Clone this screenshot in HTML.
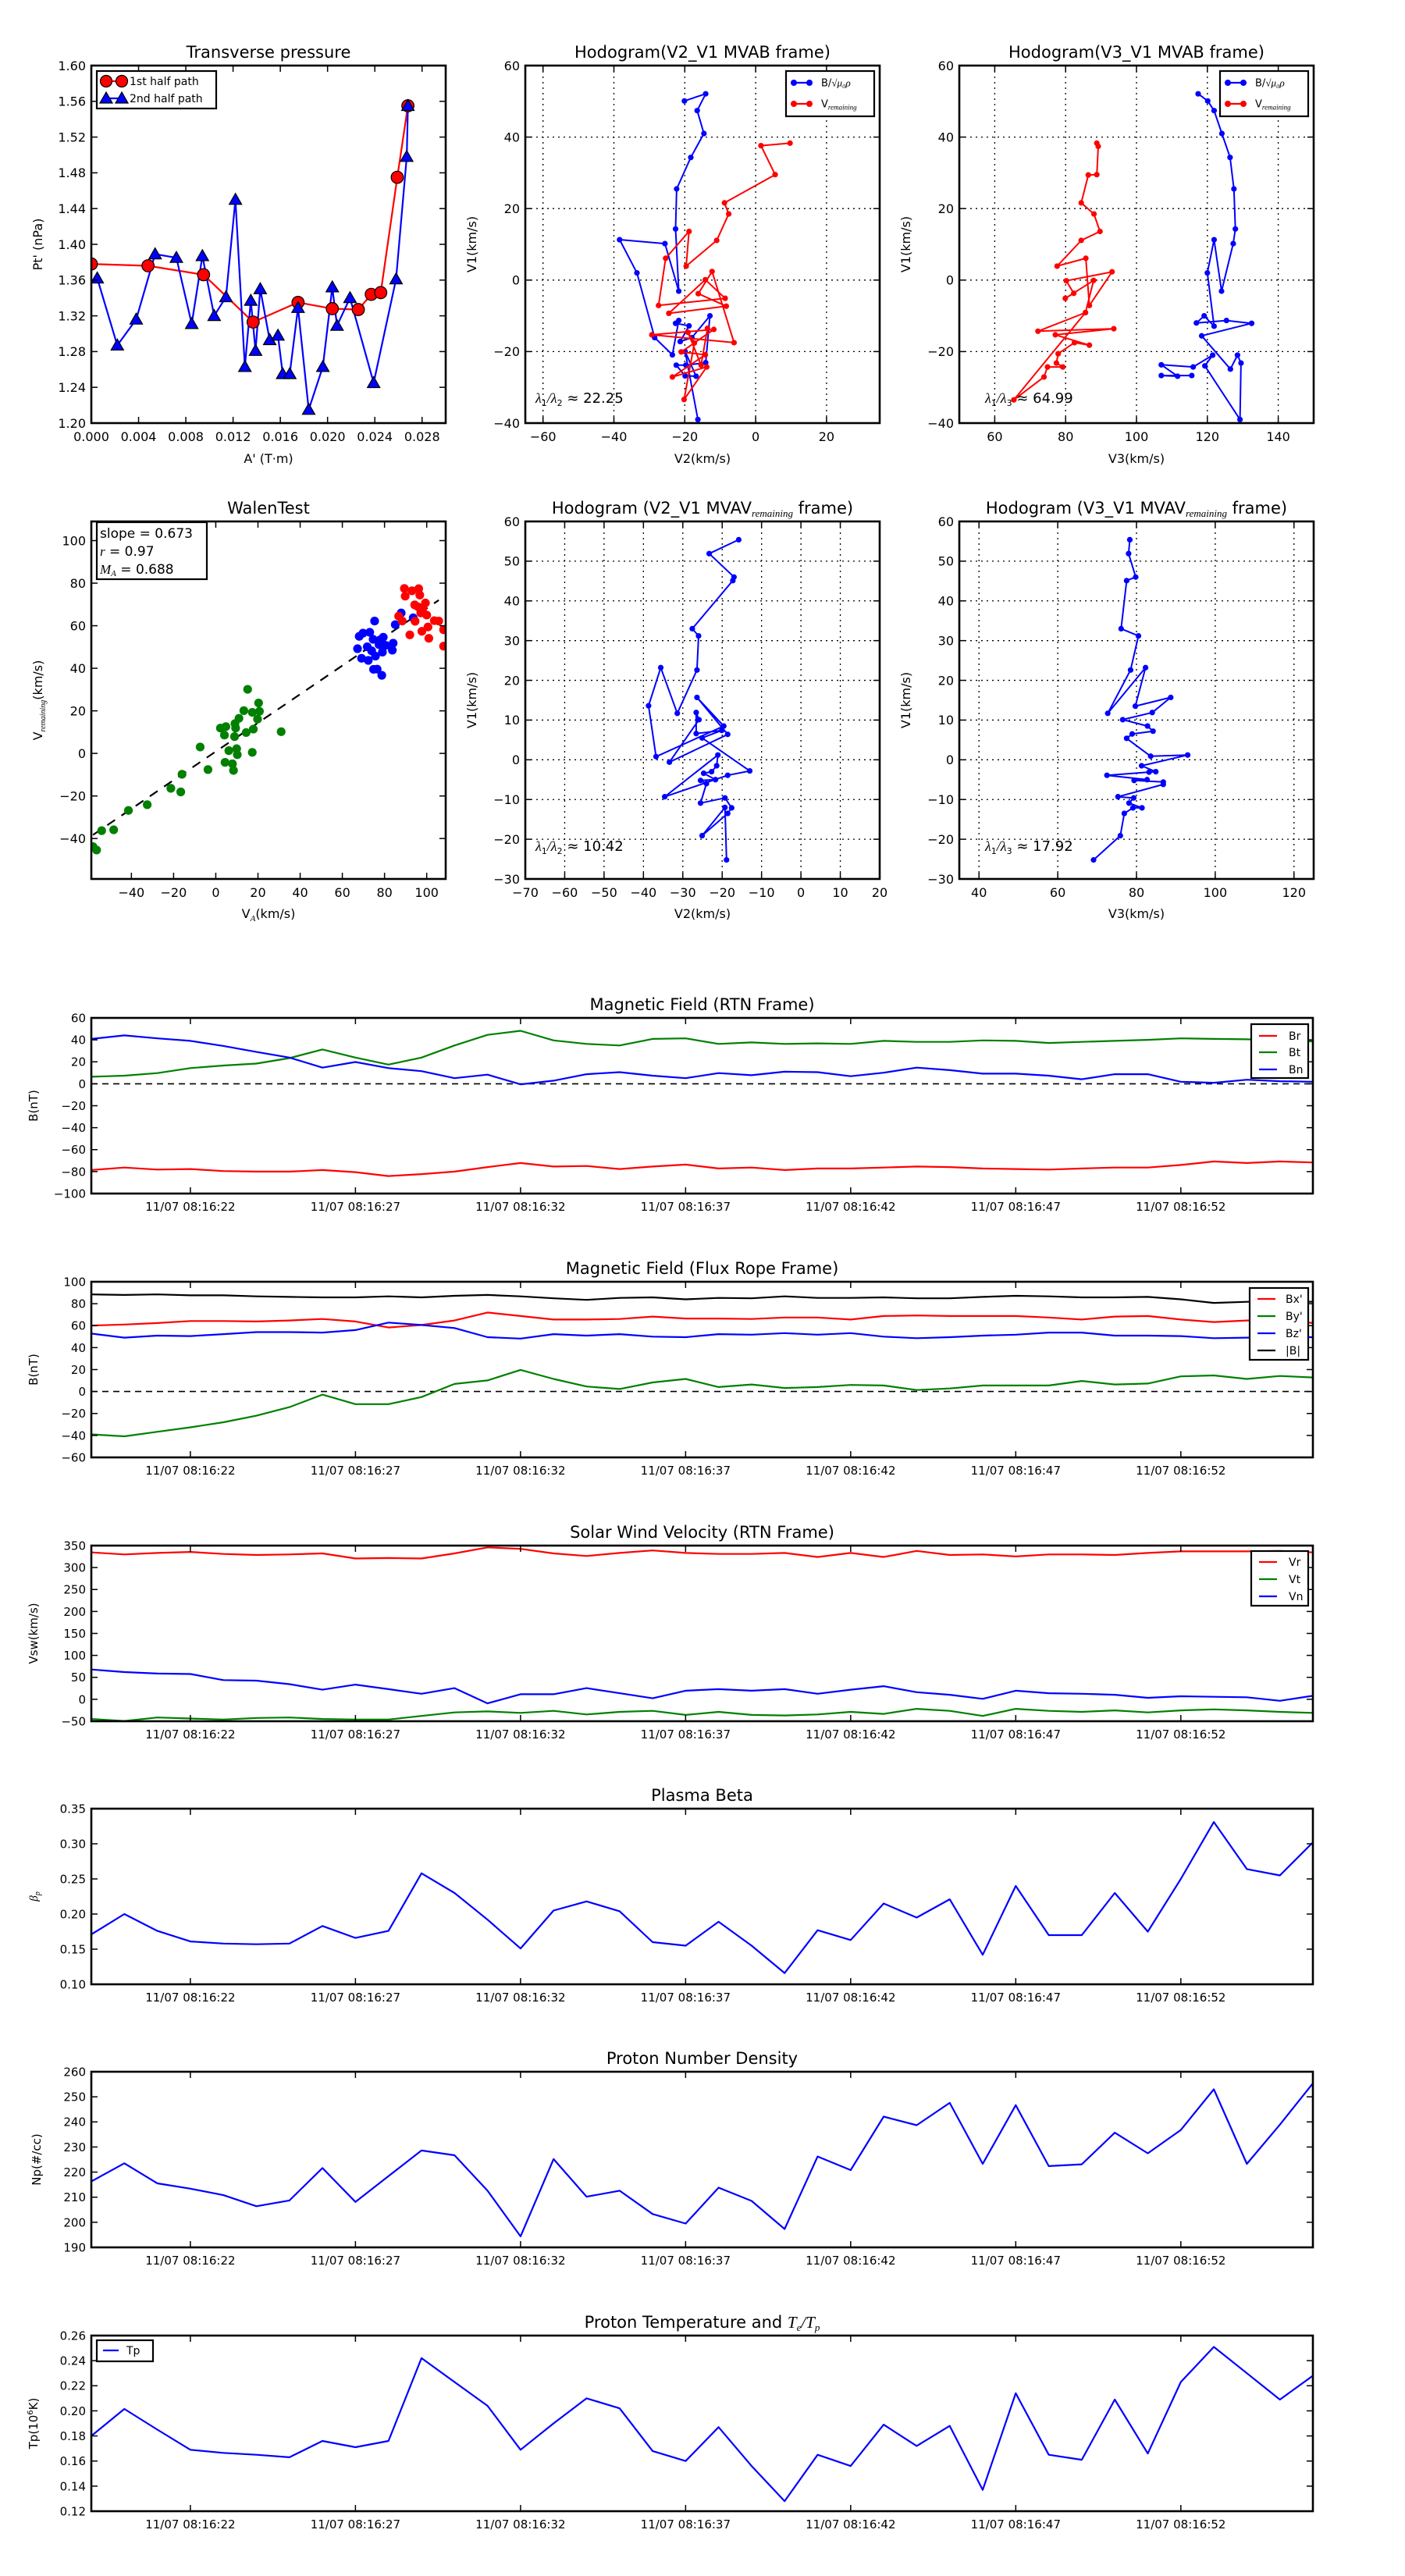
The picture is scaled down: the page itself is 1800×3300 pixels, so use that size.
<!DOCTYPE html>
<html><head><meta charset="utf-8"><title>Flux rope analysis</title>
<style>
html,body{margin:0;padding:0;background:#fff;}
svg{display:block;font-family:"DejaVu Sans","Liberation Sans",sans-serif;}
</style></head>
<body>
<svg id="fig" xmlns="http://www.w3.org/2000/svg" width="1800" height="3300" viewBox="0 0 1800 3300">
<rect x="0" y="0" width="1800" height="3300" fill="#fff"/>
</svg>
<script>
// ---------- Transverse pressure ----------
const tpRedA=[0,0.0048,0.0095,0.0137,0.0175,0.0204,0.0226,0.0237,0.0245,0.0259,0.0268];
const tpRedP=[1.378,1.376,1.366,1.313,1.335,1.328,1.327,1.344,1.346,1.475,1.555];
const tpBlueA=[0.0005,0.0022,0.0038,0.0054,0.0072,0.0085,0.0094,0.0104,0.0114,0.0122,0.0130,0.0135,0.0139,0.0143,0.0151,0.0158,0.0162,0.0168,0.0175,0.0184,0.0196,0.0204,0.0208,0.0219,0.0239,0.0258,0.0267,0.0268];
const tpBlueP=[1.362,1.287,1.316,1.389,1.385,1.311,1.387,1.320,1.341,1.450,1.263,1.337,1.281,1.350,1.293,1.298,1.255,1.255,1.329,1.215,1.263,1.352,1.309,1.340,1.245,1.361,1.498,1.555];
const tpXTicks=[0,0.004,0.008,0.012,0.016,0.020,0.024,0.028];
const tpXLabels=["0.000","0.004","0.008","0.012","0.016","0.020","0.024","0.028"];
const tpYTicks=[1.20,1.24,1.28,1.32,1.36,1.40,1.44,1.48,1.52,1.56,1.60];
// ---------- Hodogram V2-V1 MVAB ----------
const h1BlueX=[-20.1,-14.1,-16.5,-14.6,-18.3,-22.3,-22.6,-21.7,-25.6,-38.4,-33.5,-28.5,-23.5,-21.7,-22.6,-18.8,-21.3,-18,-12.9,-14.1,-19.7,-22.4,-19.9,-16.8,-19.9,-16.3];
const h1BlueY=[50.1,52.1,47.4,41.0,34.3,25.5,14.3,-3.1,10.2,11.3,2.0,-16.1,-20.9,-11.3,-12.1,-12.8,-17.2,-16.1,-10.0,-23.1,-23.8,-23.8,-26.8,-26.9,-20,-39];
const h1RedX=[9.7,1.5,5.5,-8.8,-7.6,-11,-19.6,-18.8,-25.4,-27.4,-8.6,-14.2,-24.5,-8.3,-16.2,-12.3,-6.1,-29.3,-11.8,-21,-14.2,-23.5,-13.8,-20.2,-17.3,-19.1,-15.4,-13.6];
const h1RedY=[38.3,37.6,29.5,21.6,18.5,11.1,3.9,13.6,6.1,-7.1,-5.1,0.1,-9.3,-7.3,-3.8,2.4,-17.5,-15.3,-13.8,-20.1,-20.9,-27.1,-24.3,-33.4,-17.6,-14.6,-23.8,-13.5];
// ---------- Hodogram V3-V1 MVAB ----------
const h2BlueX=[117.4,120.1,121.9,124.1,126.4,127.5,127.9,127.3,124,121.9,120,121.9,119.1,116.9,125.4,132.5,118.4,126.5,128.5,129.5,129.2,119.3,121.5,116,107,111.6,107,115.6];
const h2BlueY=[52.1,50.1,47.4,41.0,34.3,25.5,14.3,10.2,-3.1,11.3,2,-12.9,-10,-12,-11.3,-12.1,-15.6,-24.9,-21,-23.2,-39,-24,-21,-24.3,-23.7,-26.9,-26.7,-26.7];
const h2RedX=[88.8,89.2,88.8,86.4,84.4,88,89.7,84.4,77.6,85.7,86.7,93.1,80.2,82.3,79.9,87.9,85.6,72.2,93.6,77.1,86.7,82.5,77.9,77.4,79.2,74.9,73.9,65.4,85.6];
const h2RedY=[38.3,37.4,29.5,29.4,21.6,18.5,13.6,11.1,3.9,6.1,-7.1,2.3,-0.2,-3.7,-5.1,-0.1,-9.1,-14.3,-13.6,-15.3,-18.2,-17.5,-20.6,-23.2,-24.3,-24.3,-27.1,-33.5,-9.1];
// ---------- Walen test ----------
const wGreenX=[-58.2,-56.5,-54.1,-48.4,-41.4,-32.5,-21.3,-16.6,-16,-7.4,-3.7,2.2,4.8,4.1,4.4,6.2,7.9,8.4,8.9,9.4,9.9,10.2,11,13.3,14.4,15.1,17.3,17.3,17.8,19.8,20.3,20.7,31,9.1];
const wGreenY=[-43.8,-45.4,-36.3,-35.9,-26.8,-24.1,-16.4,-18.1,-9.8,3,-7.6,11.9,12.6,8.6,-4.2,1.3,-4.9,-8,7.9,11.9,2.2,-0.6,16.5,20.1,9.8,30.1,0.5,19.3,11.4,16.1,23.7,19.8,10.2,14];
const wBlueX=[67.2,68,69.1,69.8,71.8,72.3,73,73.9,74.8,75.3,75.7,76.5,77.4,78.7,79,79.4,80.6,83.7,84.1,85.1,87.9,93.6,77.8,74.6];
const wBlueY=[49.2,55,44.7,56.5,50.1,43.7,56.9,48.2,39.5,62.2,45.7,39.6,51.1,36.7,47.6,54.6,50.8,48.5,51.8,60.5,66,63.7,53.3,53.6];
const wRedX=[86.7,88.4,89.4,89.8,92,93,94.3,94.5,96.2,96.7,97.7,98.1,99.4,100,100.6,101,103.6,105.7,108,108,96,97.2];
const wRedY=[64.5,62.2,77.5,73.9,55.7,76.4,69.8,62.1,77.4,74.4,57.4,67.9,70.7,65,59.4,54.1,62.4,62.2,58.1,50.4,68.8,66];
const wSlope=[0.673];
const wIntercept=[0.9];
// ---------- MVAV hodograms ----------
const m1X=[-15.8,-23.3,-17,-17.3,-27.6,-26,-26.4,-31.4,-35.6,-38.7,-36.8,-19.6,-26.4,-18.6,-33.4,-25.9,-26.6,-26.6,-20.1,-25.1,-13,-18.6,-34.6,-21.1,-21.4,-22.7,-24.7,-21.7,-25.5,-24,-25.5,-19.3,-17.6,-18.6,-25.1,-19.3,-18.9];
const m1Y=[55.4,51.9,46,45.1,33,31.2,22.6,11.7,23.2,13.6,0.8,8.5,15.7,6.4,-0.6,10.1,11.9,6.6,7.4,5.5,-2.8,-3.9,-9.3,1.2,-1.5,-3,-3.4,-5,-5.2,-6,-10.9,-9.6,-12.1,-13.5,-19.1,-12,-25.2];
const m2X=[78.3,78,79.8,77.5,76.1,80.5,78.5,72.7,82.3,79.7,88.7,84,76.5,82.8,84.2,78.9,77.5,83.6,93,81.3,84.9,83.2,72.5,82.7,79.4,86.8,86.8,75.3,79.3,78.1,81.4,79.1,76.9,75.9,69.1];
const m2Y=[55.4,51.9,46,45.1,33,31.2,22.6,11.7,23.2,13.5,15.7,11.9,10.1,8.5,7.2,6.5,5.4,0.9,1.2,-1.5,-3,-3.1,-3.9,-5,-5.2,-5.6,-6.2,-9.3,-9.6,-10.9,-12.1,-12.1,-13.5,-19.1,-25.2];
// ---------- time series (seconds after 08:16:00) ----------
const tSec=[19,20,21,22,23,24,25,26,27,28,29,30,31,32,33,34,35,36,37,38,39,40,41,42,43,44,45,46,47,48,49,50,51,52,53,54,55,56];
const timeTicks=[22,27,32,37,42,47,52];
const timeLabels=["11/07 08:16:22","11/07 08:16:27","11/07 08:16:32","11/07 08:16:37","11/07 08:16:42","11/07 08:16:47","11/07 08:16:52"];
const bR=[-78.6,-76.3,-78.2,-77.7,-79.5,-80,-80,-78.6,-80.5,-84.1,-82.3,-80,-75.9,-72.2,-75.4,-74.9,-77.7,-75.4,-73.6,-77.2,-76.3,-78.6,-77.2,-77.2,-76.3,-75.4,-75.9,-77.2,-77.7,-78.2,-77.2,-76.3,-76.3,-74,-70.8,-72.2,-70.8,-71.7];
const bT=[6.4,7.4,9.7,14.3,16.6,18.4,23.4,31.3,23.9,17.5,23.9,34.9,44.6,48.3,39.5,36.3,34.9,40.9,41.4,36.3,37.7,36.3,36.8,36.3,39.1,38.2,38.2,39.5,39.1,37.2,38.2,39.1,40,41.4,40.9,40.5,39.5,38.6];
const bN=[40.9,44.1,41.4,39.1,34.5,29,23.9,14.7,19.8,14.3,11.5,5.1,8.3,-0.5,2.8,8.7,10.6,7.4,5.1,9.7,7.8,11,10.6,6.9,10.1,14.7,12.4,9.2,9.2,7.4,4.1,8.7,8.7,1.8,0.9,3.7,2.3,1.8];
const bxF=[60.1,61,62.4,64.2,64.2,63.8,64.7,66.1,63.8,58.3,60.6,64.7,72,68.8,65.6,65.6,66.1,68.3,66.5,66.5,66.1,67.4,67.4,65.6,68.8,69.3,68.8,68.8,68.8,67.4,65.6,68.3,68.8,65.6,63.3,64.7,65.6,62.4];
const byF=[-39,-40.8,-36.7,-32.6,-28,-22,-14.2,-2.8,-11.5,-11.5,-5,6.9,10.1,19.7,11.5,4.6,2.3,8.3,11.5,4.1,6.4,3.2,4.1,6,5.5,1.4,2.8,5.5,5.5,5.5,9.6,6.4,7.3,13.8,14.7,11.5,14.2,12.8];
const bzF=[52.8,49.1,50.9,50.5,52.3,54.1,54.1,53.7,56,62.8,60.6,57.8,49.5,48.2,52.3,50.9,52.3,50,49.5,52.3,51.8,53.2,51.8,53.2,50,48.6,49.5,50.9,51.8,53.7,53.7,50.9,50.9,50.5,48.6,49.1,49.5,49.5];
const bMag=[88.5,88,88.5,87.6,87.6,86.7,86.2,85.8,85.8,86.7,85.8,87.2,88,86.7,84.9,83.5,85.3,85.8,84,85.3,84.9,86.7,85.3,85.3,85.8,84.9,84.9,86.2,87.2,86.7,85.8,85.8,86.2,84,80.7,81.7,82.6,81.7];
const vR=[334.5,330,333.3,335.6,331,328.7,330,332.2,320.7,321.8,320.7,332.2,346,342.5,332.2,326.4,333.3,339,333.3,331,331,333.3,324.1,333.3,324.1,337.9,328.7,330,325.3,330,330,328.7,333.3,336.8,336.8,336.8,337.9,334.5];
const vT=[-44.8,-49.4,-41.4,-43.7,-46,-42.5,-41.4,-44.8,-46,-46,-37.9,-29.9,-27.6,-31,-26.4,-34.5,-28.7,-26.4,-35.6,-28.7,-35.6,-36.8,-34.5,-28.7,-33.3,-21.8,-26.4,-37.9,-21.8,-26.4,-28.7,-25.3,-29.9,-25.3,-23,-25.3,-28.7,-31];
const vN=[67.8,62,58.6,57.5,43.7,42.5,34.5,21.8,33.3,23,12.6,25.3,-9.2,11.5,11.5,25.3,13.8,2.3,19.5,23,19.5,23,12.6,21.8,29.9,16.1,10.3,1.1,19.5,13.8,12.6,10.3,3.4,6.9,5.7,4.6,-3.4,8];
const betaP=[0.171,0.200,0.176,0.161,0.158,0.157,0.158,0.183,0.166,0.176,0.258,0.230,0.192,0.151,0.205,0.218,0.204,0.160,0.155,0.189,0.155,0.116,0.177,0.163,0.215,0.195,0.221,0.142,0.240,0.170,0.170,0.230,0.175,0.250,0.331,0.264,0.255,0.302];
const nP=[216.3,223.5,215.5,213.4,210.8,206.4,208.7,221.6,208.1,218.4,228.6,226.7,212.6,194.4,225.2,210.2,212.6,203.3,199.5,213.8,208.5,197.3,226.2,220.8,242.1,238.7,247.6,223.3,246.7,222.4,223.1,235.7,227.5,236.8,253,223.3,238.9,255.4];
const tP=[0.180,0.2015,0.185,0.169,0.1665,0.165,0.163,0.176,0.171,0.176,0.242,0.223,0.204,0.169,0.190,0.210,0.202,0.168,0.160,0.187,0.156,0.128,0.165,0.156,0.189,0.172,0.188,0.137,0.214,0.165,0.161,0.209,0.166,0.223,0.251,0.230,0.209,0.228];

const NS='http://www.w3.org/2000/svg';
const svg=document.getElementById('fig');
function mk(tag,attrs,parent){const e=document.createElementNS(NS,tag);for(const k in attrs)e.setAttribute(k,attrs[k]);(parent||svg).appendChild(e);return e;}
function fmtNum(v){return String(v).replace('-','\u2212');}
let clipId=0;
function axes(name,box,xlim,ylim,xt,xl,yt,yl,opt){
  const g=mk('g',{});
  
  
  const [x0,y0,x1,y1]=box;
  const sx=v=>x0+(v-xlim[0])/(xlim[1]-xlim[0])*(x1-x0);
  const sy=v=>y1-(v-ylim[0])/(ylim[1]-ylim[0])*(y1-y0);
  const fs=opt.fs||16;
  const cid='c'+(clipId++);
  const cp=mk('clipPath',{id:cid},g);mk('rect',{x:x0,y:y0,width:x1-x0,height:y1-y0},cp);
  if(opt.grid){
    xt.forEach(v=>{const gl=mk('line',{x1:sx(v),x2:sx(v),y1:y0,y2:y1,stroke:'#000','stroke-width':1.3,'stroke-dasharray':'2,5'},g);});
    yt.forEach(v=>{const gl=mk('line',{x1:x0,x2:x1,y1:sy(v),y2:sy(v),stroke:'#000','stroke-width':1.3,'stroke-dasharray':'2,5'},g);});
  }
  const data=mk('g',{'clip-path':'url(#'+cid+')'},g);
  xt.forEach((v,i)=>{const x=sx(v);
    mk('line',{x1:x,x2:x,y1:y1,y2:y1-8,stroke:'#000','stroke-width':1.5},g);
    mk('line',{x1:x,x2:x,y1:y0,y2:y0+8,stroke:'#000','stroke-width':1.5},g);
    const t=mk('text',{x:x,y:y1+fs+7,'font-size':fs,'text-anchor':'middle'},g);t.textContent=xl[i];
    });
  yt.forEach((v,i)=>{const y=sy(v);
    mk('line',{x1:x0,x2:x0+8,y1:y,y2:y,stroke:'#000','stroke-width':1.5},g);
    mk('line',{x1:x1,x2:x1-8,y1:y,y2:y,stroke:'#000','stroke-width':1.5},g);
    const t=mk('text',{x:x0-7,y:y+fs*0.36,'font-size':fs,'text-anchor':'end'},g);t.textContent=yl[i];
    });
  const fr=mk('rect',{x:x0,y:y0,width:x1-x0,height:y1-y0,fill:'none',stroke:'#000','stroke-width':2.6},g);
  
  return {sx,sy,g,data,x0,y0,x1,y1};
}
function title(ax,html,fs){const t=mk('text',{x:(ax.x0+ax.x1)/2,y:ax.y0-10,'font-size':fs||21,'text-anchor':'middle'});t.innerHTML=html;}
function xlabel(ax,html,y,fs){const t=mk('text',{x:(ax.x0+ax.x1)/2,y:y,'font-size':fs||16,'text-anchor':'middle'});t.innerHTML=html;}
function ylabel(ax,html,x,fs){const cy=(ax.y0+ax.y1)/2;const t=mk('text',{x:x,y:cy,'font-size':fs||16,'text-anchor':'middle',transform:'rotate(-90 '+x+' '+cy+')'});t.innerHTML=html;}
function line(ax,xs,ys,color,name,w){const pts=xs.map((v,i)=>ax.sx(v).toFixed(1)+','+ax.sy(ys[i]).toFixed(1)).join(' ');
  const p=mk('polyline',{points:pts,fill:'none',stroke:color,'stroke-width':w||2.2,'stroke-linejoin':'round'},ax.data);
  return p;}
function dots(ax,xs,ys,color,name,r,stroke){xs.forEach((v,i)=>{const c=mk('circle',{cx:ax.sx(v),cy:ax.sy(ys[i]),r:r,fill:color,stroke:stroke||'none','stroke-width':1.2},ax.data);
  });}
function tris(ax,xs,ys,color,name,s){xs.forEach((v,i)=>{const x=ax.sx(v),y=ax.sy(ys[i]);
  const p=mk('polygon',{points:(x)+','+(y-s)+' '+(x-s)+','+(y+s*0.75)+' '+(x+s)+','+(y+s*0.75),fill:color,stroke:'#000','stroke-width':1.2},ax.data);
  });}
function legendBox(x,y,w,h,name){const r=mk('rect',{x:x,y:y,width:w,height:h,fill:'#fff',stroke:'#000','stroke-width':2.2});}
function legendEntry(x1,x2,y,color,label,fs,marker,tx){
  const l=mk('line',{x1:x1,x2:x2,y1:y,y2:y,stroke:color,'stroke-width':2.2});
  if(marker==='o'){[x1,x2].forEach(x=>{const c=mk('circle',{cx:x,cy:y,r:fs>13?7.5:4,fill:color,stroke:fs>13?'#000':'none','stroke-width':1.2});});}
  if(marker==='^'){[x1,x2].forEach(x=>{const p=mk('polygon',{points:x+','+(y-8)+' '+(x-8)+','+(y+6)+' '+(x+8)+','+(y+6),fill:color,stroke:'#000','stroke-width':1.2});});}
  const t=mk('text',{x:tx||(x2+10),y:y+fs*0.36,'font-size':fs});t.innerHTML=label;}
function note(x,y,html,fs){const t=mk('text',{x:x,y:y,'font-size':fs||18});t.innerHTML=html;}
const rng=(a,b,s)=>{const o=[];for(let v=a;v<=b+1e-9;v+=s)o.push(+v.toFixed(4));return o;};
const lab=(arr,d)=>arr.map(v=>fmtNum(v.toFixed(d)));
const L=117,R=571,C0=673,C1=1127,D0=1229,D1=1683;

// ---- Transverse pressure ----
let ax=axes('transverse-pressure-chart',[L,84,R,542],[0,0.030],[1.20,1.60],tpXTicks,tpXLabels,tpYTicks,lab(tpYTicks,2),{});
line(ax,tpRedA,tpRedP,'#f00','first-half-path-line');
line(ax,tpBlueA,tpBlueP,'#00f','second-half-path-line');
dots(ax,tpRedA,tpRedP,'#f00','first-half-point',7.8,'#000');
tris(ax,tpBlueA,tpBlueP,'#00f','second-half-point',8);
title(ax,'Transverse pressure');
xlabel(ax,"A' (T\u00b7m)",593);
ylabel(ax,"Pt' (nPa)",54);
legendBox(124,91,153,48,'transverse-pressure-legend');
legendEntry(136,156,104,'#f00','1st half path',14,'o');
legendEntry(136,156,126,'#00f','2nd half path',14,'^');

// ---- Hodogram V2-V1 MVAB ----
let yt1=rng(-40,60,20);
ax=axes('hodogram-v2-v1-mvab-chart',[C0,84,C1,542],[-65,35],[-40,60],rng(-60,20,20),lab(rng(-60,20,20),0),yt1,lab(yt1,0),{grid:true});
line(ax,h1BlueX,h1BlueY,'#00f','b-alfven-line',2);dots(ax,h1BlueX,h1BlueY,'#00f','b-alfven-point',3.6);
line(ax,h1RedX,h1RedY,'#f00','v-remaining-line',2);dots(ax,h1RedX,h1RedY,'#f00','v-remaining-point',3.6);
title(ax,'Hodogram(V2_V1 MVAB frame)');xlabel(ax,'V2(km/s)',593);ylabel(ax,'V1(km/s)',610);
note(686,516,'<tspan font-style="italic" font-family="Liberation Serif">λ</tspan><tspan font-size="11" dy="4">1</tspan><tspan dy="-4" font-style="italic" font-family="Liberation Serif">/λ</tspan><tspan font-size="11" dy="4">2</tspan><tspan dy="-4"> ≈ 22.25</tspan>');
legendBox(1007,91,113,58,'hodogram-legend');
legendEntry(1017,1037,106,'#00f','B/<tspan font-family="Liberation Serif" font-style="italic">√μ₀ρ</tspan>',13,'o',1052);
legendEntry(1017,1037,133,'#f00','V<tspan font-size="9" dy="3" font-style="italic" font-family="Liberation Serif">remaining</tspan>',13,'o',1052);

// ---- Hodogram V3-V1 MVAB ----
ax=axes('hodogram-v3-v1-mvab-chart',[D0,84,D1,542],[50,150],[-40,60],rng(60,140,20),lab(rng(60,140,20),0),yt1,lab(yt1,0),{grid:true});
line(ax,h2BlueX,h2BlueY,'#00f','b-alfven-line',2);dots(ax,h2BlueX,h2BlueY,'#00f','b-alfven-point',3.6);
line(ax,h2RedX,h2RedY,'#f00','v-remaining-line',2);dots(ax,h2RedX,h2RedY,'#f00','v-remaining-point',3.6);
title(ax,'Hodogram(V3_V1 MVAB frame)');xlabel(ax,'V3(km/s)',593);ylabel(ax,'V1(km/s)',1166);
note(1262,516,'<tspan font-style="italic" font-family="Liberation Serif">λ</tspan><tspan font-size="11" dy="4">1</tspan><tspan dy="-4" font-style="italic" font-family="Liberation Serif">/λ</tspan><tspan font-size="11" dy="4">3</tspan><tspan dy="-4"> ≈ 64.99</tspan>');
legendBox(1563,91,113,58,'hodogram-legend');
legendEntry(1573,1593,106,'#00f','B/<tspan font-family="Liberation Serif" font-style="italic">√μ₀ρ</tspan>',13,'o',1608);
legendEntry(1573,1593,133,'#f00','V<tspan font-size="9" dy="3" font-style="italic" font-family="Liberation Serif">remaining</tspan>',13,'o',1608);

// ---- Walen test ----
let wt=rng(-40,100,20);
ax=axes('walen-test-chart',[L,668,R,1126],[-59,109],[-59,109],wt,lab(wt,0),wt,lab(wt,0),{});
{const xs=[Math.min(...wGreenX),Math.max(...wRedX.slice(0,18))];const ys=xs.map(v=>wSlope[0]*v+wIntercept[0]);
 const d=line(ax,xs,ys,'#000','walen-fit-line',2.2);d.setAttribute('stroke-dasharray','12,10');}
dots(ax,wGreenX,wGreenY,'#008000','walen-point-green',5.6);
dots(ax,wBlueX,wBlueY,'#00f','walen-point-blue',5.6);
dots(ax,wRedX,wRedY,'#f00','walen-point-red',5.6);
title(ax,'WalenTest');
xlabel(ax,'V<tspan font-size="11" dy="4" font-style="italic" font-family="Liberation Serif">A</tspan><tspan dy="-4">(km/s)</tspan>',1176);
ylabel(ax,'V<tspan font-size="10" dy="4" font-style="italic" font-family="Liberation Serif">remaining</tspan><tspan dy="-4">(km/s)</tspan>',54);
legendBox(124,669,141,73,'walen-stats-box');
{const t=mk('text',{x:128,y:689,'font-size':17});t.textContent='slope = 0.673';
 const t2=mk('text',{x:128,y:712,'font-size':17});t2.innerHTML='<tspan font-style="italic" font-family="Liberation Serif">r</tspan> = 0.97';
 const t3=mk('text',{x:128,y:735,'font-size':17});t3.innerHTML='<tspan font-style="italic" font-family="Liberation Serif">M<tspan font-size="11" dy="3">A</tspan></tspan><tspan dy="-3"> = 0.688</tspan>';}

// ---- MVAV hodograms ----
let myt=rng(-30,60,10);
ax=axes('hodogram-v2-v1-mvav-chart',[C0,668,C1,1126],[-70,20],[-30,60],rng(-70,20,10),lab(rng(-70,20,10),0),myt,lab(myt,0),{grid:true});
line(ax,m1X,m1Y,'#00f','b-alfven-line',2);dots(ax,m1X,m1Y,'#00f','b-alfven-point',3.6);
title(ax,'Hodogram (V2_V1 MVAV<tspan font-size="13" dy="4" font-style="italic" font-family="Liberation Serif">remaining</tspan><tspan dy="-4"> frame)</tspan>');
xlabel(ax,'V2(km/s)',1176);ylabel(ax,'V1(km/s)',610);
note(686,1090,'<tspan font-style="italic" font-family="Liberation Serif">λ</tspan><tspan font-size="11" dy="4">1</tspan><tspan dy="-4" font-style="italic" font-family="Liberation Serif">/λ</tspan><tspan font-size="11" dy="4">2</tspan><tspan dy="-4"> ≈ 10.42</tspan>');
ax=axes('hodogram-v3-v1-mvav-chart',[D0,668,D1,1126],[35,125],[-30,60],rng(40,120,20),lab(rng(40,120,20),0),myt,lab(myt,0),{grid:true});
line(ax,m2X,m2Y,'#00f','b-alfven-line',2);dots(ax,m2X,m2Y,'#00f','b-alfven-point',3.6);
title(ax,'Hodogram (V3_V1 MVAV<tspan font-size="13" dy="4" font-style="italic" font-family="Liberation Serif">remaining</tspan><tspan dy="-4"> frame)</tspan>');
xlabel(ax,'V3(km/s)',1176);ylabel(ax,'V1(km/s)',1166);
note(1262,1090,'<tspan font-style="italic" font-family="Liberation Serif">λ</tspan><tspan font-size="11" dy="4">1</tspan><tspan dy="-4" font-style="italic" font-family="Liberation Serif">/λ</tspan><tspan font-size="11" dy="4">3</tspan><tspan dy="-4"> ≈ 17.92</tspan>');

// ---- time series panels ----
function tsAxes(name,y0,ylim,yt,yd,ttl,ylab,labx){
  const a=axes(name,[L,y0,1682,y0+225],[19,56],ylim,timeTicks,timeLabels,yt,lab(yt,yd),{fs:15});
  title(a,ttl,21);ylabel(a,ylab,labx||48,15);return a;}
ax=tsAxes('magnetic-field-rtn-chart',1304,[-100,60],rng(-100,60,20),0,'Magnetic Field (RTN Frame)','B(nT)');
{const z=line(ax,[19,56],[0,0],'#000','zero-line',1.6);z.setAttribute('stroke-dasharray','8,6');}
line(ax,tSec,bR,'#f00','br-line');line(ax,tSec,bT,'#008000','bt-line');line(ax,tSec,bN,'#00f','bn-line');
legendBox(1603,1312,73,69,'magnetic-field-rtn-legend');
legendEntry(1613,1636,1327,'#f00','Br',14,null,1651);legendEntry(1613,1636,1348,'#008000','Bt',14,null,1651);legendEntry(1613,1636,1370,'#00f','Bn',14,null,1651);

ax=tsAxes('magnetic-field-flux-rope-chart',1642,[-60,100],rng(-60,100,20),0,'Magnetic Field (Flux Rope Frame)','B(nT)');
{const z=line(ax,[19,56],[0,0],'#000','zero-line',1.6);z.setAttribute('stroke-dasharray','8,6');}
line(ax,tSec,bMag,'#000','b-magnitude-line');line(ax,tSec,bxF,'#f00','bx-prime-line');line(ax,tSec,bzF,'#00f','bz-prime-line');line(ax,tSec,byF,'#008000','by-prime-line');
legendBox(1601,1650,75,92,'magnetic-field-flux-rope-legend');
legendEntry(1611,1634,1664,'#f00',"Bx'",14,null,1647);legendEntry(1611,1634,1686,'#008000',"By'",14,null,1647);legendEntry(1611,1634,1708,'#00f',"Bz'",14,null,1647);legendEntry(1611,1634,1730,'#000','|B|',14,null,1647);

ax=tsAxes('solar-wind-velocity-chart',1980,[-50,350],rng(-50,350,50),0,'Solar Wind Velocity (RTN Frame)','Vsw(km/s)');
line(ax,tSec,vR,'#f00','vr-line');line(ax,tSec,vT,'#008000','vt-line');line(ax,tSec,vN,'#00f','vn-line');
legendBox(1603,1987,73,70,'solar-wind-velocity-legend');
legendEntry(1613,1636,2001,'#f00','Vr',14,null,1651);legendEntry(1613,1636,2023,'#008000','Vt',14,null,1651);legendEntry(1613,1636,2045,'#00f','Vn',14,null,1651);

ax=tsAxes('plasma-beta-chart',2317,[0.10,0.35],[0.10,0.15,0.20,0.25,0.30,0.35],2,'Plasma Beta','<tspan font-style="italic" font-family="Liberation Serif">β<tspan font-size="10" dy="3">p</tspan></tspan>');
line(ax,tSec,betaP,'#00f','plasma-beta-line');

ax=tsAxes('proton-density-chart',2654,[190,260],rng(190,260,10),0,'Proton Number Density','Np(#/cc)',52);
line(ax,tSec,nP,'#00f','proton-density-line');

ax=tsAxes('proton-temperature-chart',2992,[0.12,0.26],[0.12,0.14,0.16,0.18,0.20,0.22,0.24,0.26],2,'Proton Temperature and <tspan font-style="italic" font-family="Liberation Serif">T<tspan font-size="13" dy="4">e</tspan><tspan dy="-4">/T</tspan><tspan font-size="13" dy="4">p</tspan></tspan>','Tp(10<tspan font-size="10" dy="-6">6</tspan><tspan dy="6">K)</tspan>');
line(ax,tSec,tP,'#00f','proton-temperature-line');
legendBox(124,2998,72,27,'proton-temperature-legend');
legendEntry(132,152,3011,'#00f','Tp',14,null,162);
</script>
</body></html>
